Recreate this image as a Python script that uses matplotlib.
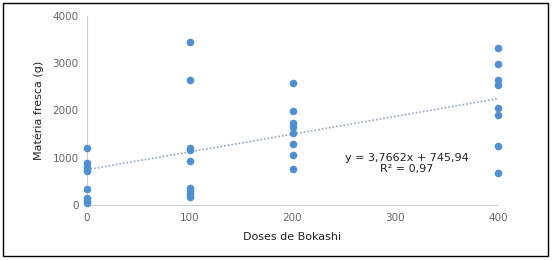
import numpy as np
import matplotlib.pyplot as plt
from matplotlib.patches import Rectangle

# Data
dose_0 = [1200, 880, 800, 720, 330, 150, 80, 30]
dose_100 = [3450, 2640, 1210, 1160, 930, 360, 290, 230, 170]
dose_200 = [2590, 2000, 1730, 1640, 1530, 1290, 1050, 760]
dose_400 = [3330, 2980, 2650, 2540, 2050, 1900, 1250, 670]
doses = [0, 100, 200, 400]
slope, intercept = 3.7662, 745.94

fig = plt.figure(figsize=(5.53, 2.60), dpi=100)
ax = fig.add_axes([0.157, 0.212, 0.744, 0.726])

color = '#4f8fd2'
for d, vals in zip(doses, [dose_0, dose_100, dose_200, dose_400]):
    ax.scatter([d] * len(vals), vals, s=30, color=color, zorder=3, clip_on=False,
               linewidths=0)

# Trendline
xl = np.array([0, 400])
ax.plot(xl, slope * xl + intercept, linestyle=(0, (1, 1.2)), color='#98a8ba', lw=1.2)

ax.set_xlim(0, 400)
ax.set_ylim(0, 4000)
ax.set_xticks([0, 100, 200, 300, 400])
ax.set_yticks([0, 1000, 2000, 3000, 4000])
ax.tick_params(length=0, labelsize=7.5, labelcolor='#666666', pad=6)
for s in ['top', 'right']:
    ax.spines[s].set_visible(False)
for s in ['left', 'bottom']:
    ax.spines[s].set_color('#d0d0d0')

ax.set_xlabel('Doses de Bokashi', fontsize=8, color='#222222', labelpad=6)
ax.set_ylabel('Matéria fresca (g)', fontsize=8, color='#222222', labelpad=6)

ax.text(0.778, 0.22, 'y = 3,7662x + 745,94\nR² = 0,97', transform=ax.transAxes,
        ha='center', va='center', fontsize=8, color='#222222', linespacing=1.1)

fig.patches.append(Rectangle((0.006, 0.015), 0.985, 0.975, transform=fig.transFigure,
                             fill=False, edgecolor='black', lw=1))

plt.savefig('out.png', dpi=100)
